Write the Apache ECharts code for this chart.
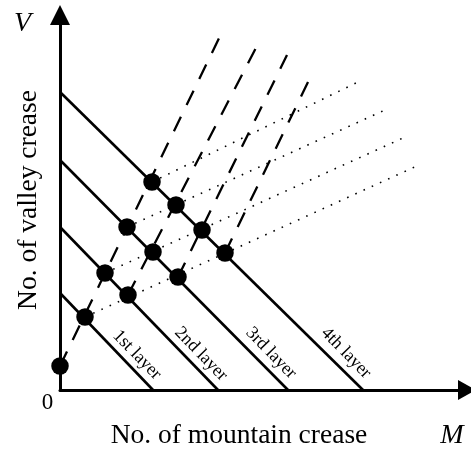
<!DOCTYPE html>
<html>
<head>
<meta charset="utf-8">
<script src="https://cdn.jsdelivr.net/npm/echarts@6/dist/echarts.min.js"></script>
<style>
html,body{margin:0;padding:0;background:#fff;}
#chart{width:471px;height:451px;}
</style>
</head>
<body>
<div id="chart"></div>
<script>
// Layer lines (M + V = const), intercepts
const layerNames = ['1st layer', '2nd layer', '3rd layer', '4th layer'];
const layerVIntercepts = [97, 163, 230, 298];
const layerMIntercepts = [93, 158, 228, 303];

// Crease-count points (M, V)
const pointM = [0, 25, 45, 68, 67, 93, 118, 92, 116, 142, 165];
const pointV = [24, 73, 117, 95, 163, 138, 113, 208, 185, 160, 137];

// Dashed guide lines: start (M,V) -> end (M,V)
const dashedStartM = [0, 68, 118, 165];
const dashedStartV = [24, 95, 113, 137];
const dashedEndM = [163, 199, 227, 250];
const dashedEndV = [360, 348, 335, 312];

// Dotted guide lines: start (M,V) -> end (M,V)
const dottedStartM = [25, 45, 67, 92];
const dottedStartV = [73, 117, 163, 208];
const dottedEndM = [359, 343, 325, 298];
const dottedEndV = [225, 252, 280, 308];

const xMax = 407, yMax = 375;

const chart = echarts.init(document.getElementById('chart'));
const FONT = '"Liberation Serif", "Times New Roman", serif';

const series = [];
layerNames.forEach((n, i) => {
  series.push({
    type: 'line', name: n, silent: true, symbol: 'none', z: 3,
    data: [[0, layerVIntercepts[i]], [layerMIntercepts[i], 0]],
    lineStyle: { color: '#000', width: 2.6 }
  });
});
dashedStartM.forEach((m, i) => {
  series.push({
    type: 'line', silent: true, symbol: 'none', z: 2,
    data: [[m, dashedStartV[i]], [dashedEndM[i], dashedEndV[i]]],
    lineStyle: { color: '#000', width: 2.3, type: [16, 13] }
  });
});
dottedStartM.forEach((m, i) => {
  series.push({
    type: 'line', silent: true, symbol: 'none', z: 2,
    data: [[m, dottedStartV[i]], [dottedEndM[i], dottedEndV[i]]],
    lineStyle: { color: '#000', width: 1.6, type: [1.6, 7.4] }
  });
});
series.push({
  type: 'scatter', silent: true, z: 5,
  symbol: 'circle', symbolSize: 17.5,
  itemStyle: { color: '#000', opacity: 1 },
  data: pointM.map((m, i) => [m, pointV[i]])
});

const labelCenters = [[137, 355], [201, 354], [271, 353], [346, 353]];
const graphics = [
  { type: 'text', x: 28.7, y: 200, rotation: Math.PI / 2,
    style: { text: 'No. of valley crease', font: '27.5px ' + FONT, fill: '#000', align: 'center', verticalAlign: 'middle' } },
  { type: 'text', x: 239, y: 435.7,
    style: { text: 'No. of mountain crease', font: '27.5px ' + FONT, fill: '#000', align: 'center', verticalAlign: 'middle' } },
  { type: 'text', x: 22.5, y: 23.5,
    style: { text: 'V', font: 'italic 28px ' + FONT, fill: '#000', align: 'center', verticalAlign: 'middle' } },
  { type: 'text', x: 452, y: 435.5,
    style: { text: 'M', font: 'italic 28px ' + FONT, fill: '#000', align: 'center', verticalAlign: 'middle' } },
  { type: 'text', x: 47.5, y: 402.6,
    style: { text: '0', font: '23px ' + FONT, fill: '#000', align: 'center', verticalAlign: 'middle' } }
];
layerNames.forEach((n, i) => {
  graphics.push({ type: 'text', x: labelCenters[i][0], y: labelCenters[i][1], rotation: -0.8,
    style: { text: n, font: '18px ' + FONT, fill: '#000', align: 'center', verticalAlign: 'middle' } });
});

chart.setOption({
  animation: false,
  backgroundColor: '#fff',
  grid: { left: 60, right: 471 - 60 - xMax, top: 390 - yMax, bottom: 61 },
  xAxis: {
    type: 'value', min: 0, max: xMax,
    axisLine: { show: true, onZero: false, symbol: ['none', 'triangle'], symbolSize: [20, 18],
      lineStyle: { color: '#000', width: 3 } },
    axisTick: { show: false }, axisLabel: { show: false }, splitLine: { show: false }
  },
  yAxis: {
    type: 'value', min: 0, max: yMax,
    axisLine: { show: true, onZero: false, symbol: ['none', 'triangle'], symbolSize: [20, 20],
      lineStyle: { color: '#000', width: 3 } },
    axisTick: { show: false }, axisLabel: { show: false }, splitLine: { show: false }
  },
  series: series,
  graphic: graphics
});
</script>
</body>
</html>
